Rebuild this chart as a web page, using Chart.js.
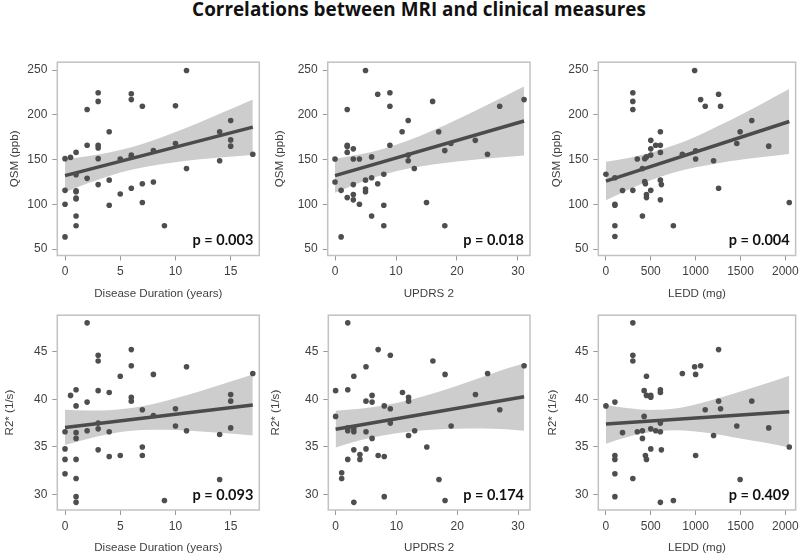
<!DOCTYPE html>
<html>
<head>
<meta charset="utf-8">
<script src="https://cdn.jsdelivr.net/npm/chart.js"></script>
<style>
  html, body { margin:0; padding:0; background:#fff; width:800px; height:555px; overflow:hidden; position:relative; }
  #title { position:absolute; left:0; top:1px; width:838px; text-align:center; font-weight:bold; font-family:'Open Sans', sans-serif; font-size:17.6px; line-height:17.6px; color:#111; white-space:nowrap; }
  canvas { position:absolute; }
</style>
</head>
<body>
<div id="title">Correlations between MRI and clinical measures</div>
<canvas id="c1"></canvas><canvas id="c2"></canvas><canvas id="c3"></canvas>
<canvas id="c4"></canvas><canvas id="c5"></canvas><canvas id="c6"></canvas>
<script>
// ---------- axis titles and tick labels ----------
const yTitleQSM = 'QSM (ppb)';
const yTitleR2 = 'R2* (1/s)';
const xTitleDur = 'Disease Duration (years)';
const xTitleUPDRS = 'UPDRS 2';
const xTitleLEDD = 'LEDD (mg)';
const yTicksQSM = [50, 100, 150, 200, 250];
const yTicksR2 = [30, 35, 40, 45];
const xTicksDur = [0, 5, 10, 15];
const xTicksUPDRS = [0, 10, 20, 30];
const xTicksLEDD = [0, 500, 1000, 1500, 2000];
const pValues = ['p = 0.003', 'p = 0.018', 'p = 0.004', 'p = 0.093', 'p = 0.174', 'p = 0.409'];

// ---------- Panel 1: QSM vs Disease Duration ----------
const qsmDurX = [0,0,0,0,0.5,1,1,1,1,1,1,1,1,2,2,2,3,3,3,3,3,3,4,4,4,5,5,6,6,6,6,6,7,7,7,8,8,9,10,10,11,11,14,14,15,15,15,17];
const qsmDurY = [151,115.6,100,63.6,152.4,158,133,115,114,107,106,87,76,206,166,129,224.6,215,166,163,151,122,181,127,99,150.6,111.5,223.5,217,155,153,118,209.5,123,102,160,125,76,210,168,249.6,140,181,148.7,193.6,172,165,156];
const qsmDurFitX = [0, 17];
const qsmDurFitY = [132, 186.2];
const qsmDurBandX = [0, 2, 4, 6, 8, 10, 12, 14, 17];
const qsmDurBandUp = [150.5, 153.6, 157.9, 163.7, 171.5, 180.7, 190.6, 201.1, 217.2];
const qsmDurBandLo = [113.5, 123.2, 131.7, 138.5, 143.5, 147.1, 150.0, 152.3, 155.2];

// ---------- Panel 2: QSM vs UPDRS 2 ----------
const qsmUpdX = [0,0,1,1,2,2,2,2,2,3,3,3,3,3,4,4,5,5,5,5,6,6,6,7,7,8,8,8,9,9,9,11,12,12,12,13,15,16,17,18,18,19,23,25,27,31];
const qsmUpdY = [150.6,125,115.6,63.6,206,166,164.5,158,107.5,162,150.6,122,111,105,150.6,100,249.6,127,117,114,153,129.6,87,223,123,133.6,99,76,224.6,209.5,166,181,193.6,155,148.7,140,102,215,181,160,76,168,171.5,156,209.5,217];
const qsmUpdFitX = [0, 31];
const qsmUpdFitY = [132, 193.1];
const qsmUpdBandX = [0, 4, 8, 12, 16, 20, 24, 28, 31];
const qsmUpdBandUp = [151, 155.6, 162.2, 171.3, 182.5, 194.9, 208, 221.4, 231.6];
const qsmUpdBandLo = [113, 124.2, 133.4, 139.9, 144.5, 147.9, 150.6, 153, 154.6];

// ---------- Panel 3: QSM vs LEDD ----------
const qsmLeddX = [0,100,100,100,100,100,185,300,300,300,300,350,407,407,433,440,433,452,452,452,500,500,500,500,555,607,607,607,607,607,618,752,852,989,1000,1000,1056,1107,1200,1256,1256,1278,1459,1496,1626,1815,2044];
const qsmLeddY = [133.6,129.6,100,99,76,64,115.5,224.6,215,206,115.6,150.6,87,140,125.5,123,151,153,111,107.5,171.5,162,155,115.6,166,181,166,158,127,105,122,76,156,249.6,159.8,150.6,217,209.5,148.7,223,118,209.5,168,181,193.6,165,102];
const qsmLeddFitX = [0, 2044];
const qsmLeddFitY = [126, 192.5];
const qsmLeddBandX = [0, 250, 500, 750, 1000, 1250, 1500, 1750, 2044];
const qsmLeddBandUp = [147.5, 151.8, 157.7, 165.6, 175.6, 187.4, 199.9, 213, 228.8];
const qsmLeddBandLo = [104.5, 116.4, 126.9, 135.2, 141.4, 146, 149.7, 152.8, 156.2];

// ---------- Panel 4: R2* vs Disease Duration ----------
const r2DurX = [0,0,0,0,0.5,1,1,1,1,1,1,1,1,2,2,2,3,3,3,3,3,3,4,4,4,5,5,6,6,6,6,7,7,7,8,8,9,10,10,11,11,14,14,15,15,15,17];
const r2DurY = [36.6,34.8,33.7,32.2,40.4,41,39.3,36.5,35.9,33.7,31.7,29.8,29.2,48,39.7,36.7,44.6,44,40.9,37.5,36.9,34.7,40.7,36.6,34,42.4,34.1,45.2,43.5,40.2,39.8,38.9,35,34.1,42.6,38.3,29.4,39,37.2,43.4,36.7,36.3,31.6,40.5,39.8,37,42.7];
const r2DurFitX = [0, 17];
const r2DurFitY = [37.05, 39.4];
const r2DurBandX = [0, 2, 4, 6, 8, 10, 12, 14, 17];
const r2DurBandUp = [38.9, 38.82, 38.85, 39.07, 39.51, 40.09, 40.77, 41.49, 42.6];
const r2DurBandLo = [35.2, 35.84, 36.36, 36.69, 36.81, 36.77, 36.65, 36.49, 36.2];

// ---------- Panel 5: R2* vs UPDRS 2 ----------
const r2UpdX = [0,0,1,1,2,2,2,2,2,3,3,3,3,3,4,4,5,5,5,5,6,6,6,7,7,8,8,8,9,9,9,11,12,12,12,13,15,16,17,18,18,19,23,25,27,31];
const r2UpdY = [40.9,38.2,32.3,31.7,48,41,37,36.7,33.7,42.4,36.9,36.6,34.7,29.2,34.2,33.7,43.4,39.8,36.6,34.8,40.4,39.7,35.9,45.2,34.1,39.3,34,29.8,44.6,39,37.5,40.7,40.2,39.8,36.2,36.7,35,44,31.6,42.6,29.4,37.2,40.5,42.7,38.9,43.5];
const r2UpdFitX = [0, 31];
const r2UpdFitY = [36.85, 40.25];
const r2UpdBandX = [0, 4, 8, 12, 16, 20, 24, 28, 31];
const r2UpdBandUp = [38.8, 39.0, 39.36, 39.9, 40.61, 41.42, 42.29, 43.2, 43.75];
const r2UpdBandLo = [34.95, 35.7, 36.24, 36.6, 36.81, 36.9, 36.93, 36.85, 36.7];

// ---------- Panel 6: R2* vs LEDD ----------
const r2LeddX = [0,100,100,100,100,100,185,300,300,300,300,350,407,407,426,426,452,452,440,452,500,500,500,500,555,607,607,607,607,607,618,752,852,989,1000,1000,1056,1107,1200,1256,1256,1278,1459,1496,1626,1815,2044];
const r2LeddY = [39.3,39.7,34.1,33.7,32.2,29.8,36.5,48,44.6,44,31.7,36.6,35.9,36.7,38.2,40.9,40.4,42.4,34.1,33.7,40.4,40.2,36.9,34.8,36.7,41,40.7,37.5,36.6,29.2,34.7,29.4,42.7,43.4,42.6,34.1,43.5,38.9,36.2,45.2,39.8,39,37.2,31.6,39.8,37,35];
const r2LeddFitX = [0, 2044];
const r2LeddFitY = [37.4, 38.7];
const r2LeddBandX = [0, 250, 500, 750, 1000, 1250, 1500, 1750, 2044];
const r2LeddBandUp = [39.4, 39.06, 38.88, 39.0, 39.46, 40.09, 40.8, 41.53, 42.45];
const r2LeddBandLo = [35.35, 36.06, 36.56, 36.75, 36.62, 36.31, 35.9, 35.49, 34.95];

// ---------- title sizing (fit reference width) ----------
(function fitTitle() {
  const el = document.getElementById('title');
  const c = document.createElement('canvas').getContext('2d');
  c.font = "bold 20px 'Open Sans'";
  const w20 = c.measureText(el.textContent).width;
  const fs = Math.min(22, Math.max(14, 20 * 454 / w20));
  el.style.fontSize = fs.toFixed(2) + 'px';
  el.style.lineHeight = fs.toFixed(2) + 'px';
  el.style.top = (16.5 - 0.888 * fs).toFixed(2) + 'px';
})();

// ---------- build ----------
const zip = (xs, ys) => xs.map((x, i) => ({x: x, y: ys[i]}));
const TICK_FONT = {family: "'Liberation Sans', Arial, sans-serif", size: 12};
const TITLE_FONT = {family: "'Liberation Sans', Arial, sans-serif", size: 11.6};
const TEXT_COLOR = '#3f3f3f';
const plainTick = v => String(v);

function makePanel(id, geom, d) {
  const cv = document.getElementById(id);
  cv.width = geom.w; cv.height = geom.h;
  cv.style.left = geom.left + 'px'; cv.style.top = geom.top + 'px';
  cv.style.width = geom.w + 'px'; cv.style.height = geom.h + 'px';
  const framePlugin = {
    id: 'frame' + id,
    beforeDatasetsDraw(chart) {
      const a = chart.chartArea, ctx = chart.ctx;
      ctx.save();
      ctx.strokeStyle = '#c2c2c2'; ctx.lineWidth = 1.5;
      ctx.strokeRect(a.left, a.top, a.right - a.left, a.bottom - a.top);
      ctx.restore();
    },
    afterDatasetsDraw(chart) {
      const a = chart.chartArea, ctx = chart.ctx;
      ctx.save();
      ctx.font = "bold 14.5px 'Lato', sans-serif";
      ctx.fillStyle = '#111';
      ctx.textAlign = 'right'; ctx.textBaseline = 'alphabetic';
      ctx.fillText(d.p, a.right - 6, a.bottom - 10.5);
      ctx.restore();
    }
  };
  new Chart(cv, {
    type: 'scatter',
    data: { datasets: [
      { data: zip(d.x, d.y), pointRadius: 2.8, pointHoverRadius: 2.8, pointBackgroundColor: '#4e4e4e', pointBorderWidth: 0, showLine: false },
      { data: zip(d.fitX, d.fitY), showLine: true, borderColor: '#4b4b4b', borderWidth: 3.5, pointRadius: 0, fill: false },
      { data: zip(d.bandX, d.bandUp), showLine: true, borderWidth: 0, borderColor: 'rgba(0,0,0,0)', pointRadius: 0, fill: '+1', backgroundColor: '#cdcdcd', cubicInterpolationMode: 'monotone' },
      { data: zip(d.bandX, d.bandLo), showLine: true, borderWidth: 0, borderColor: 'rgba(0,0,0,0)', pointRadius: 0, fill: false, cubicInterpolationMode: 'monotone' }
    ]},
    options: {
      responsive: false, animation: false, devicePixelRatio: 1,
      layout: { padding: { top: geom.padTop, right: geom.padRight, left: 0, bottom: 0 } },
      plugins: { legend: { display: false }, tooltip: { enabled: false } },
      events: [],
      scales: {
        x: {
          type: 'linear', position: 'bottom', min: d.xMin, max: d.xMax,
          afterBuildTicks: s => { s.ticks = d.xTicks.map(v => ({value: v})); },
          afterFit: s => { s.height = geom.xh; },
          grid: { display: true, drawOnChartArea: false, drawTicks: true, tickLength: 5, color: '#9a9a9a', lineWidth: 1 },
          border: { display: false },
          ticks: { font: TICK_FONT, color: TEXT_COLOR, padding: 4, maxRotation: 0, autoSkip: false, callback: plainTick },
          title: { display: true, text: d.xTitle, font: TITLE_FONT, color: TEXT_COLOR, padding: 0 }
        },
        y: {
          type: 'linear', position: 'left', min: d.yMin, max: d.yMax,
          afterBuildTicks: s => { s.ticks = d.yTicks.map(v => ({value: v})); },
          afterFit: s => { s.width = geom.yw; },
          grid: { display: true, drawOnChartArea: false, drawTicks: true, tickLength: 5, color: '#9a9a9a', lineWidth: 1 },
          border: { display: false },
          ticks: { font: TICK_FONT, color: TEXT_COLOR, padding: 5, callback: plainTick },
          title: { display: true, text: d.yTitle, font: TITLE_FONT, color: TEXT_COLOR, padding: 0 }
        }
      }
    },
    plugins: [framePlugin]
  });
}

const QSM_MIN = 42.8, QSM_MAX = 258.8, R2_MIN = 28.4, R2_MAX = 48.8;

makePanel('c1', {left: 8, top: 50, w: 258, h: 251, padTop: 10, padRight: 6.7, yw: 49.3, xh: 45.5},
  {x: qsmDurX, y: qsmDurY, fitX: qsmDurFitX, fitY: qsmDurFitY, bandX: qsmDurBandX, bandUp: qsmDurBandUp, bandLo: qsmDurBandLo,
   xMin: -0.7, xMax: 17.59, yMin: QSM_MIN, yMax: QSM_MAX, xTicks: xTicksDur, yTicks: yTicksQSM, xTitle: xTitleDur, yTitle: yTitleQSM, p: pValues[0]});
makePanel('c2', {left: 273, top: 50, w: 264, h: 251, padTop: 10, padRight: 7, yw: 54.7, xh: 45.5},
  {x: qsmUpdX, y: qsmUpdY, fitX: qsmUpdFitX, fitY: qsmUpdFitY, bandX: qsmUpdBandX, bandUp: qsmUpdBandUp, bandLo: qsmUpdBandLo,
   xMin: -1.2, xMax: 31.97, yMin: QSM_MIN, yMax: QSM_MAX, xTicks: xTicksUPDRS, yTicks: yTicksQSM, xTitle: xTitleUPDRS, yTitle: yTitleQSM, p: pValues[1]});
makePanel('c3', {left: 550, top: 50, w: 253, h: 251, padTop: 10, padRight: 6.3, yw: 48.3, xh: 45.5},
  {x: qsmLeddX, y: qsmLeddY, fitX: qsmLeddFitX, fitY: qsmLeddFitY, bandX: qsmLeddBandX, bandUp: qsmLeddBandUp, bandLo: qsmLeddBandLo,
   xMin: -85, xMax: 2115, yMin: QSM_MIN, yMax: QSM_MAX, xTicks: xTicksLEDD, yTicks: yTicksQSM, xTitle: xTitleLEDD, yTitle: yTitleQSM, p: pValues[2]});
makePanel('c4', {left: 3, top: 303, w: 263, h: 252, padTop: 10, padRight: 6.7, yw: 54.3, xh: 45},
  {x: r2DurX, y: r2DurY, fitX: r2DurFitX, fitY: r2DurFitY, bandX: r2DurBandX, bandUp: r2DurBandUp, bandLo: r2DurBandLo,
   xMin: -0.7, xMax: 17.59, yMin: R2_MIN, yMax: R2_MAX, xTicks: xTicksDur, yTicks: yTicksR2, xTitle: xTitleDur, yTitle: yTitleR2, p: pValues[3]});
makePanel('c5', {left: 269, top: 303, w: 268, h: 252, padTop: 10, padRight: 7, yw: 59.3, xh: 45},
  {x: r2UpdX, y: r2UpdY, fitX: r2UpdFitX, fitY: r2UpdFitY, bandX: r2UpdBandX, bandUp: r2UpdBandUp, bandLo: r2UpdBandLo,
   xMin: -1.2, xMax: 31.97, yMin: R2_MIN, yMax: R2_MAX, xTicks: xTicksUPDRS, yTicks: yTicksR2, xTitle: xTitleUPDRS, yTitle: yTitleR2, p: pValues[4]});
makePanel('c6', {left: 546, top: 303, w: 257, h: 252, padTop: 10, padRight: 6.3, yw: 52.3, xh: 45},
  {x: r2LeddX, y: r2LeddY, fitX: r2LeddFitX, fitY: r2LeddFitY, bandX: r2LeddBandX, bandUp: r2LeddBandUp, bandLo: r2LeddBandLo,
   xMin: -85, xMax: 2115, yMin: R2_MIN, yMax: R2_MAX, xTicks: xTicksLEDD, yTicks: yTicksR2, xTitle: xTitleLEDD, yTitle: yTitleR2, p: pValues[5]});
</script>
</body>
</html>
